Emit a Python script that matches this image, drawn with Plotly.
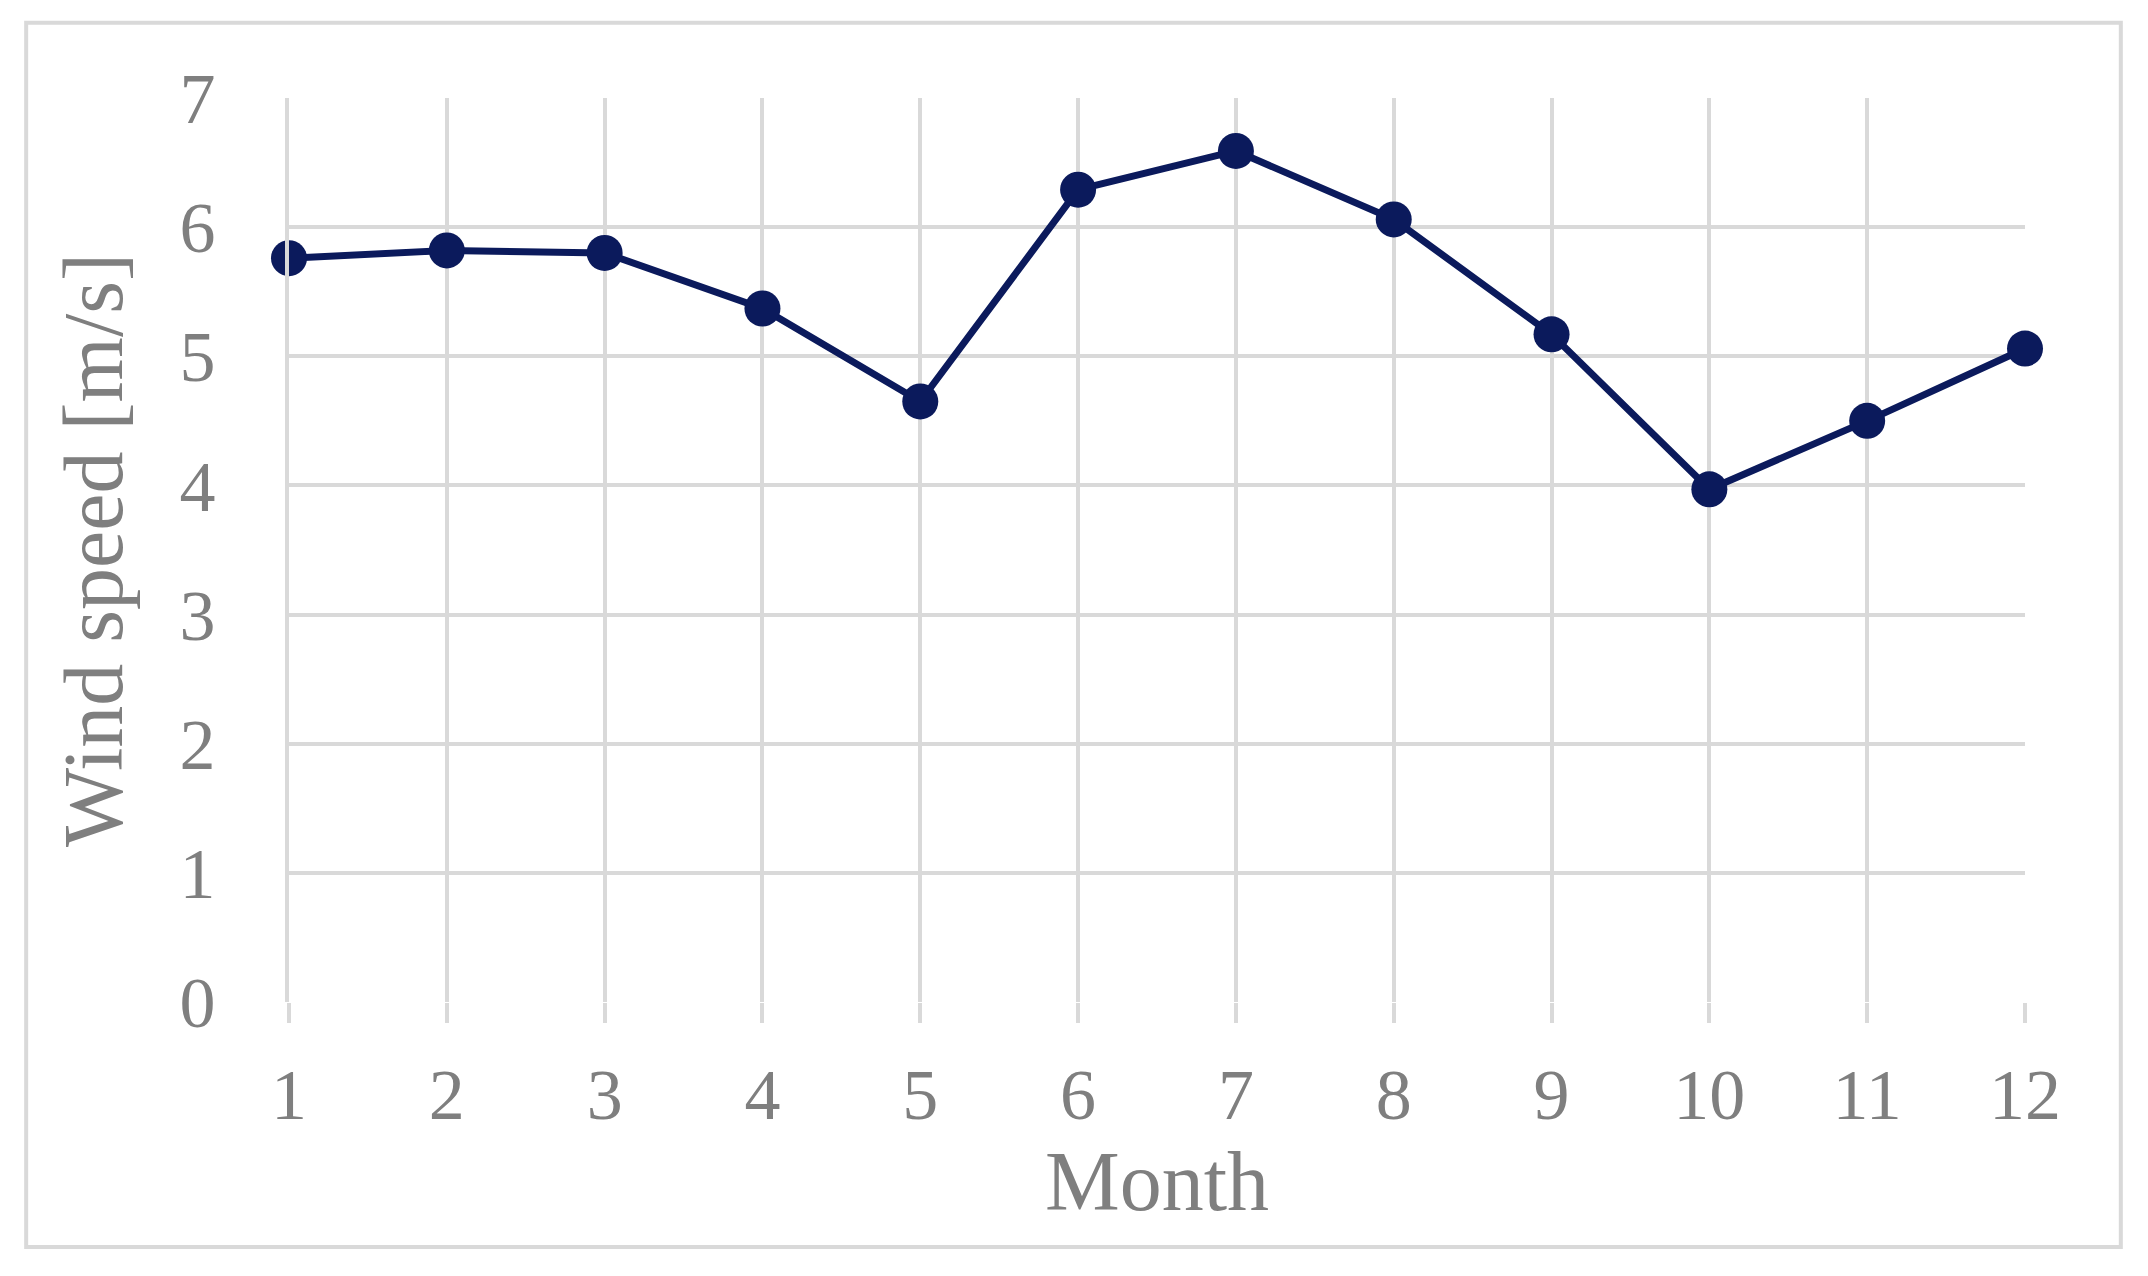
import plotly.graph_objects as go

months = [1, 2, 3, 4, 5, 6, 7, 8, 9, 10, 11, 12]
wind_speed = [5.76, 5.82, 5.80, 5.37, 4.65, 6.29, 6.59, 6.06, 5.17, 3.97, 4.50, 5.06]
x_ticks = months
y_ticks = [0, 1, 2, 3, 4, 5, 6, 7]

color = "#0b1a5c"
grid = "#d9d9d9"
font_col = "#7f7f7f"

fig = go.Figure(go.Scatter(
    x=months, y=wind_speed, mode="lines+markers",
    line=dict(color=color, width=7),
    marker=dict(color=color, size=36),
    cliponaxis=False,
))
fig.update_layout(
    width=2148, height=1276,
    paper_bgcolor="white", plot_bgcolor="white",
    margin=dict(l=281, r=131, t=90, b=282),
    showlegend=False,
    font=dict(family="Liberation Serif", color=font_col, size=70),
    shapes=[dict(type="rect", xref="paper", yref="paper",
                 x0=-0.1514, x1=1.0552, y0=-0.271, y1=1.0833,
                 line=dict(color=grid, width=4))],
)
fig.update_xaxes(
    range=[1, 12], tickvals=x_ticks, showgrid=True, gridcolor=grid, gridwidth=4,
    zeroline=False, showline=False, ticks="outside", ticklen=20, tickcolor=grid, tickwidth=4,
    title=dict(text="Month", standoff=5), tickfont=dict(size=72), ticklabelstandoff=10,
)
fig.update_yaxes(
    range=[0, 7], tickvals=y_ticks, showgrid=True, gridcolor=grid, gridwidth=4,
    zeroline=False, showline=True, linecolor=grid, linewidth=4,
    title=dict(text="Wind speed [m/s]", standoff=30), tickfont=dict(size=72),
    ticklabelstandoff=55,
)
fig.write_html("out.html")
